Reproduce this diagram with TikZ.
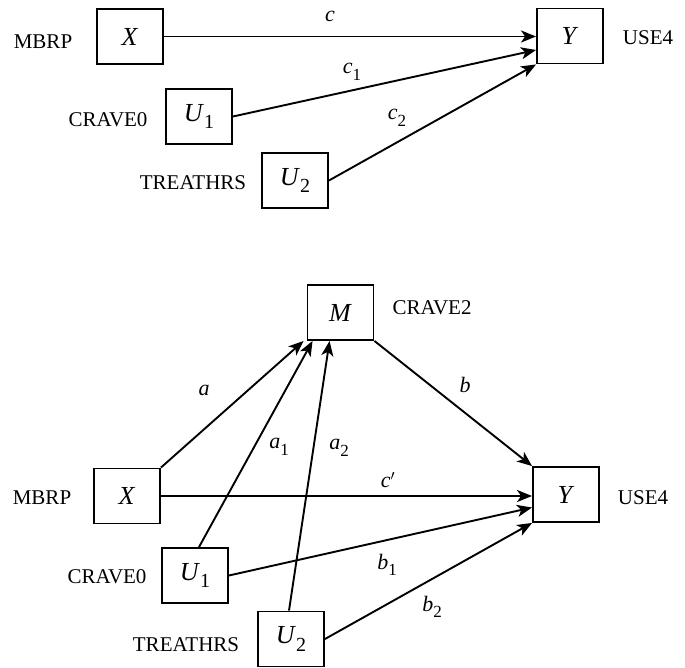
\documentclass[tikz,border=0pt]{standalone}
\usepackage{fontspec}
\setmainfont{Liberation Serif}
\usetikzlibrary{arrows.meta}
% italic symbol with an upright, lowered subscript (box variables)
\newcommand{\boxsub}[2]{\textit{#1}\raisebox{-0.28em}{\fontsize{20}{20}\selectfont #2}}
% italic coefficient with an upright, lowered subscript (path labels)
\newcommand{\coefsub}[2]{\textit{#1}\raisebox{-0.3em}{\fontsize{17}{17}\selectfont #2}}
\tikzset{
  every node/.style={font=\fontsize{21}{25}\selectfont, inner sep=0pt},
  varbox/.style={draw, line width=1.9pt, minimum width=66pt, minimum height=55pt,
                 font=\fontsize{26}{30}\selectfont},
  coef/.style={font=\fontsize{22}{26}\selectfont},
  path/.style={line width=1.9pt, -{Stealth[length=15pt, width=12pt, inset=4pt]}},
}
\begin{document}
\begin{tikzpicture}[x=1pt, y=-1pt]
\useasboundingbox (0,0) rectangle (685,667);

% ---- total effect model ----
\node[varbox] (X1)  at (130,36.5)  {\textit{X}};
\node[varbox] (Y1)  at (570,36)    {\textit{Y}};
\node[varbox] (U1a) at (199,116.5) {\boxsub{U}{1}};
\node[varbox] (U2a) at (295,180.5) {\boxsub{U}{2}};

\node (nX1)  at (43,42)   {MBRP};
\node (nY1)  at (648,38)  {USE4};
\node (nU1a) at (108,120) {CRAVE0};
\node (nU2a) at (193,183) {TREATHRS};

\draw[path] (X1.east) -- (X1.east -| Y1.west);
\draw[path] (U1a.east) -- ([yshift=-14pt]Y1.west);
\draw[path] (U2a.east) -- (Y1.south west);

\node[coef] (lc)  at (330,16)  {\textit{c}};
\node[coef] (lc1) at (352,72)  {\coefsub{c}{1}};
\node[coef] (lc2) at (397,118) {\coefsub{c}{2}};

% ---- mediation model ----
\node[varbox] (M)   at (340.5,312.5) {\textit{M}};
\node[varbox] (X2)  at (127,496)     {\textit{X}};
\node[varbox] (Y2)  at (566,494.5)   {\textit{Y}};
\node[varbox] (U1b) at (195,575.5)   {\boxsub{U}{1}};
\node[varbox] (U2b) at (291,639)     {\boxsub{U}{2}};

\node (nM)   at (432,308) {CRAVE2};
\node (nX2)  at (42,498)  {MBRP};
\node (nY2)  at (643,498) {USE4};
\node (nU1b) at (107,577) {CRAVE0};
\node (nU2b) at (186,645) {TREATHRS};

\draw[path] (X2.north east) -- ([xshift=-3pt]M.south west);
\draw[path] ([xshift=4pt]U1b.north) -- ([xshift=6pt]M.south west);
\draw[path] ([xshift=-2pt]U2b.north) -- ([xshift=23pt]M.south west);
\draw[path] (M.south east) -- (Y2.north west);
\draw[path] (X2.east) -- (X2.east -| Y2.west);
\draw[path] (U1b.east) -- ([yshift=-13pt]Y2.west);
\draw[path] (U2b.east) -- (Y2.south west);

\node[coef] (la)  at (204,390) {\textit{a}};
\node[coef] (la1) at (279,447) {\coefsub{a}{1}};
\node[coef] (la2) at (339,448) {\coefsub{a}{2}};
\node[coef] (lb)  at (465,385) {\textit{b}};
\node[coef] (lcp) at (388,480) {\textit{c}$'$};
\node[coef] (lb1) at (387,565) {\coefsub{b}{1}};
\node[coef] (lb2) at (432,607) {\coefsub{b}{2}};
\end{tikzpicture}
\end{document}
